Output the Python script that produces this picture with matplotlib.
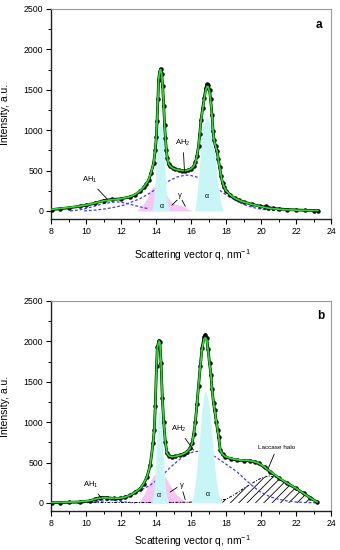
import matplotlib
matplotlib.use('Agg')
import matplotlib.pyplot as plt
from matplotlib.ticker import MultipleLocator

plt.rcParams['font.family'] = ['Liberation Sans', 'DejaVu Sans']
plt.rcParams['mathtext.fontset'] = 'custom'
plt.rcParams['mathtext.rm'] = 'Liberation Sans'
plt.rcParams['mathtext.it'] = 'Liberation Sans:italic'
plt.rcParams['mathtext.default'] = 'regular'
plt.rcParams['hatch.linewidth'] = 0.6

# ---------------- panel a ----------------
qa = [8.06, 8.5, 9.0, 9.67, 10.0, 10.5, 11.0, 11.5, 12.0, 12.53,
      12.8, 13.1, 13.3, 13.45, 13.58, 13.72, 13.86, 13.96, 14.02, 14.06,
      14.11, 14.15, 14.2, 14.26, 14.32, 14.38, 14.44, 14.49, 14.54, 14.59,
      14.64, 14.72, 14.82, 14.95, 15.1, 15.3, 15.5, 15.67, 15.85, 16.0,
      16.15, 16.25, 16.34, 16.43, 16.5, 16.57, 16.67, 16.76, 16.85, 16.91,
      16.97, 17.06, 17.12, 17.2, 17.26, 17.32, 17.4, 17.49, 17.56, 17.63,
      17.72, 17.8, 17.9, 18.0, 18.25, 18.5, 18.75, 19.0, 19.5, 19.96,
      20.2, 20.3, 20.4, 20.7, 21.0, 21.5, 22.0, 22.5, 23.0, 23.25]
Ia_exp = [17, 27, 38, 58, 70, 95, 128, 142, 150, 174,
          200, 244, 290, 335, 381, 470, 588, 753, 920, 1117,
          1386, 1622, 1720, 1758, 1700, 1547, 1303, 1063, 900, 760,
          660, 580, 550, 530, 515, 503, 497, 496, 505, 520,
          550, 600, 680, 800, 950, 1126, 1271, 1403, 1520, 1568,
          1565, 1498, 1382, 1188, 990, 880, 800, 740, 640, 546,
          430, 350, 290, 250, 195, 155, 130, 112, 80, 58,
          48, 55, 42, 30, 25, 17, 12, 8, 5, 5]
Ia_fit = [20, 30, 42, 60, 72, 97, 125, 138, 150, 176,
          205, 250, 295, 340, 390, 475, 590, 760, 925, 1120,
          1390, 1620, 1720, 1750, 1700, 1545, 1300, 1060, 900, 765,
          665, 585, 552, 530, 515, 505, 500, 500, 508, 522,
          552, 600, 680, 800, 950, 1120, 1265, 1395, 1500, 1540,
          1538, 1480, 1370, 1180, 990, 880, 800, 740, 640, 546,
          435, 355, 295, 252, 198, 158, 132, 112, 80, 55,
          45, 40, 35, 28, 22, 15, 10, 7, 5, 5]

qa_ah1 = [9.1, 9.6, 10.0, 10.5, 11.0, 11.5, 11.8, 12.2, 12.7, 13.1, 13.5]
Ia_ah1 = [0, 12, 30, 60, 90, 108, 112, 100, 72, 50, 30]
qa_ah2 = [9.9, 10.5, 11.0, 11.5, 12.15, 12.6, 13.1, 13.6, 14.06, 14.5, 14.82, 15.2,
          15.67, 16.0, 16.43, 16.9, 17.3, 17.63, 18.0, 18.53, 19.0, 19.5, 20.0, 20.5, 21.0]
Ia_ah2 = [0, 10, 22, 40, 71, 110, 153, 215, 278, 340, 381, 420,
          443, 438, 414, 360, 300, 257, 200, 133, 80, 45, 22, 10, 3]
qa_gam = [12.9, 13.2, 13.5, 13.75, 13.96, 14.1, 14.3, 14.53, 14.7, 14.9, 15.1, 15.3, 15.5, 15.7, 15.9, 16.06]
Ia_gam = [0, 60, 160, 280, 319, 330, 300, 230, 160, 110, 85, 75, 60, 40, 15, 0]
qa_al1 = [13.75, 13.85, 13.95, 14.05, 14.12, 14.25, 14.36, 14.44, 14.55, 14.65, 14.75]
Ia_al1 = [0, 100, 350, 800, 1050, 1100, 1050, 800, 350, 100, 0]
qa_al2 = [16.2, 16.32, 16.45, 16.58, 16.68, 16.9, 17.1, 17.25, 17.4, 17.55, 17.7, 17.86]
Ia_al2 = [0, 150, 450, 850, 1050, 1167, 1080, 950, 600, 300, 100, 0]

# ---------------- panel b ----------------
qb = [8.06, 8.5, 9.0, 9.67, 10.2, 10.5, 10.82, 11.2, 11.6, 11.96,
      12.25, 12.53, 12.8, 13.1, 13.3, 13.49, 13.67, 13.83, 13.9, 13.96,
      14.03, 14.08, 14.17, 14.22, 14.29, 14.36, 14.44, 14.53, 14.63, 14.75,
      14.91, 15.1, 15.39, 15.6, 15.77, 15.95, 16.06, 16.15, 16.25, 16.34,
      16.43, 16.53, 16.63, 16.75, 16.82, 16.9, 16.97, 17.06, 17.14, 17.2,
      17.29, 17.35, 17.45, 17.52, 17.58, 17.67, 17.8, 17.96, 18.3, 18.63,
      19.0, 19.39, 19.65, 19.86, 20.2, 20.53, 21.0, 21.49, 22.0, 22.43,
      22.8, 23.2]
Ib_exp = [3, 5, 8, 12, 25, 45, 67, 65, 55, 55,
          70, 96, 130, 178, 240, 323, 468, 737, 900, 1200,
          1700, 1936, 2010, 1990, 1730, 1303, 1000, 760, 613, 580,
          571, 575, 592, 610, 633, 680, 737, 850, 1000, 1225,
          1448, 1697, 1916, 2060, 2085, 2040, 1907, 1730, 1585, 1407,
          1234, 1150, 1000, 900, 819, 654, 600, 571, 545, 530,
          525, 521, 505, 489, 440, 385, 310, 241, 180, 117,
          65, 12]
Ib_fit = [5, 7, 10, 15, 28, 45, 62, 62, 58, 60,
          72, 98, 132, 180, 242, 325, 470, 740, 900, 1200,
          1700, 1930, 2005, 1985, 1730, 1305, 1000, 760, 615, 582,
          572, 576, 592, 610, 633, 680, 737, 850, 1000, 1225,
          1448, 1690, 1900, 2030, 2045, 2020, 1900, 1725, 1580, 1405,
          1234, 1150, 1000, 900, 819, 654, 600, 575, 550, 535,
          528, 522, 508, 492, 445, 390, 315, 245, 182, 118,
          65, 12]

qb_ah1 = [9.5, 10.0, 10.5, 10.9, 11.3, 11.8, 12.3, 12.8]
Ib_ah1 = [0, 10, 30, 45, 40, 25, 10, 0]
qb_ah2 = [9.5, 10.5, 11.5, 12.0, 12.72, 13.2, 13.67, 14.25, 14.82, 15.3, 15.7, 16.15, 16.5,
          16.9, 17.39, 18.0, 18.63, 19.1, 19.58, 20.0, 20.53, 21.0, 21.49, 22.0, 22.5, 23.2]
Ib_ah2 = [0, 10, 40, 70, 117, 165, 220, 320, 440, 530, 595, 633, 640,
          620, 571, 480, 385, 290, 199, 130, 75, 45, 25, 12, 5, 2]
qb_halo = [8.5, 10, 12, 14, 15, 16.0, 16.72, 17.3, 17.6, 18.0, 18.5, 19.0, 19.5, 19.96,
           20.44, 20.9, 21.29, 21.7, 22.06, 22.5, 22.82, 23.2]
Ib_halo = [3, 4, 5, 6, 7, 10, 15, 25, 32, 45, 105, 178, 245, 302,
           335, 315, 281, 230, 178, 120, 75, 10]
qb_gam = [13.0, 13.3, 13.6, 13.86, 14.2, 14.53, 14.8, 15.1, 15.4, 15.6, 15.8]
Ib_gam = [0, 100, 230, 344, 380, 323, 220, 120, 60, 25, 0]
qb_al1 = [13.75, 13.85, 13.95, 14.05, 14.12, 14.2, 14.28, 14.36, 14.46, 14.58, 14.72]
Ib_al1 = [0, 100, 350, 800, 1080, 1150, 1080, 800, 400, 120, 0]
qb_al2 = [16.0, 16.15, 16.3, 16.45, 16.6, 16.7, 16.82, 16.95, 17.1, 17.25, 17.4, 17.55, 17.7, 17.8]
Ib_al2 = [0, 100, 350, 700, 1100, 1300, 1400, 1300, 1100, 700, 350, 130, 30, 0]

x_ticks = [8, 10, 12, 14, 16, 18, 20, 22, 24]
y_ticks = [0, 500, 1000, 1500, 2000, 2500]

PINK = '#f8c6f2'
CYAN = '#c8f6f6'
BLUE = '#3a3aff'
GREEN = '#22e022'
DASH = (0, (2.2, 1.6))

fig = plt.figure(figsize=(3.4, 5.5), dpi=100)
ax_a = fig.add_axes([51 / 340, 1 - 219 / 550, 280 / 340, 210 / 550])
ax_b = fig.add_axes([51 / 340, 1 - 511 / 550, 280 / 340, 210 / 550])


def style(ax, xlab_y):
    ax.set_xlim(8, 24)
    ax.set_ylim(-100, 2500)
    ax.set_xticks(x_ticks)
    ax.set_yticks(y_ticks)
    ax.xaxis.set_minor_locator(MultipleLocator(1))
    ax.yaxis.set_minor_locator(MultipleLocator(250))
    ax.tick_params(which='major', direction='out', length=3.5, width=0.8,
                   labelsize=6.3, pad=2)
    ax.tick_params(which='minor', direction='out', length=2, width=0.7)
    for s in ['left', 'bottom']:
        ax.spines[s].set_linewidth(1.0)
        ax.spines[s].set_color('#222222')
    for s in ['top', 'right']:
        ax.spines[s].set_linewidth(0.8)
        ax.spines[s].set_color('#999999')
    ax.set_xlabel('Scattering vector q, nm$^{-1}$', fontsize=7.5)
    ax.set_ylabel('Intensity, a.u.', fontsize=7.5)
    ax.xaxis.set_label_coords(0.505, xlab_y)
    ax.yaxis.set_label_coords(-0.145, 0.5)


def draw_common(ax, q, I_exp, I_fit, qg, Ig, qa1, Ia1, qa2, Ia2):
    ax.fill_between(qg, 0, Ig, color=PINK, lw=0, zorder=1)
    ax.fill_between(qa1, 0, Ia1, color=CYAN, lw=0, zorder=3)
    ax.fill_between(qa2, 0, Ia2, color=CYAN, lw=0, zorder=3)
    ax.plot(q, I_exp, color='black', lw=2.0, zorder=4)
    ax.plot(q, I_exp, 'o', color='black', ms=2.2, zorder=4)
    ax.plot(q, I_fit, color=GREEN, lw=1.3, zorder=5)


# ---- panel a ----
style(ax_a, -0.135)
draw_common(ax_a, qa, Ia_exp, Ia_fit, qa_gam, Ia_gam, qa_al1, Ia_al1, qa_al2, Ia_al2)
ax_a.plot(qa_ah1, Ia_ah1, color=BLUE, lw=0.9, ls=DASH, zorder=2)
ax_a.plot(qa_ah2, Ia_ah2, color=BLUE, lw=0.9, ls=DASH, zorder=2)
ax_a.text(0.957, 0.924, 'a', transform=ax_a.transAxes, fontsize=8.5,
          fontweight='bold', ha='center', va='center')
arr = dict(arrowstyle='-', lw=0.6, color='black', shrinkA=1, shrinkB=0)
ax_a.annotate('AH$_1$', xy=(11.22, 145), xytext=(10.19, 381), fontsize=5.5,
              ha='center', va='center', arrowprops=arr, zorder=6)
ax_a.annotate('AH$_2$', xy=(15.63, 484), xytext=(15.54, 836), fontsize=5.5,
              ha='center', va='center', arrowprops=arr, zorder=6)
ax_a.text(15.39, 195, 'γ', fontsize=5.5, ha='center', va='center', zorder=6)
ax_a.plot([15.2, 14.91], [133, 71], color='black', lw=0.6, zorder=6)
ax_a.plot([15.49, 15.67], [133, 58], color='black', lw=0.6, zorder=6)
ax_a.text(14.3, 58, 'α', fontsize=5, ha='center', va='center', zorder=6)
ax_a.text(16.91, 182, 'α', fontsize=5, ha='center', va='center', zorder=6)

# ---- panel b ----
style(ax_b, -0.105)
ax_b.fill_between(qb_halo, 0, Ib_halo, facecolor='none', edgecolor='black',
                  hatch='////', lw=0, zorder=2)
ax_b.plot(qb_halo, Ib_halo, color='black', lw=0.7, ls=(0, (3, 1.5, 1, 1.5)), zorder=2)
draw_common(ax_b, qb, Ib_exp, Ib_fit, qb_gam, Ib_gam, qb_al1, Ib_al1, qb_al2, Ib_al2)
ax_b.plot(qb_ah1, Ib_ah1, color=BLUE, lw=0.9, ls=DASH, zorder=2)
ax_b.plot(qb_ah2, Ib_ah2, color=BLUE, lw=0.9, ls=DASH, zorder=2)
ax_b.text(0.963, 0.93, 'b', transform=ax_b.transAxes, fontsize=8.5,
          fontweight='bold', ha='center', va='center')
ax_b.annotate('AH$_1$', xy=(10.86, 67), xytext=(10.25, 220), fontsize=5.5,
              ha='center', va='center', arrowprops=arr, zorder=6)
ax_b.annotate('AH$_2$', xy=(16.15, 654), xytext=(15.29, 911), fontsize=5.5,
              ha='center', va='center', arrowprops=arr, zorder=6)
ax_b.annotate('Laccase halo', xy=(20.4, 420), xytext=(20.91, 683), fontsize=4.6,
              ha='center', va='center', arrowprops=arr, zorder=6)
ax_b.text(15.49, 220, 'γ', fontsize=5.5, ha='center', va='center', zorder=6)
ax_b.plot([15.2, 14.82], [191, 137], color='black', lw=0.6, zorder=6)
ax_b.plot([15.54, 15.67], [137, 42], color='black', lw=0.6, zorder=6)
ax_b.text(14.15, 96, 'α', fontsize=5, ha='center', va='center', zorder=6)
ax_b.text(16.97, 108, 'α', fontsize=5, ha='center', va='center', zorder=6)

fig.savefig('out.png', dpi=100)
